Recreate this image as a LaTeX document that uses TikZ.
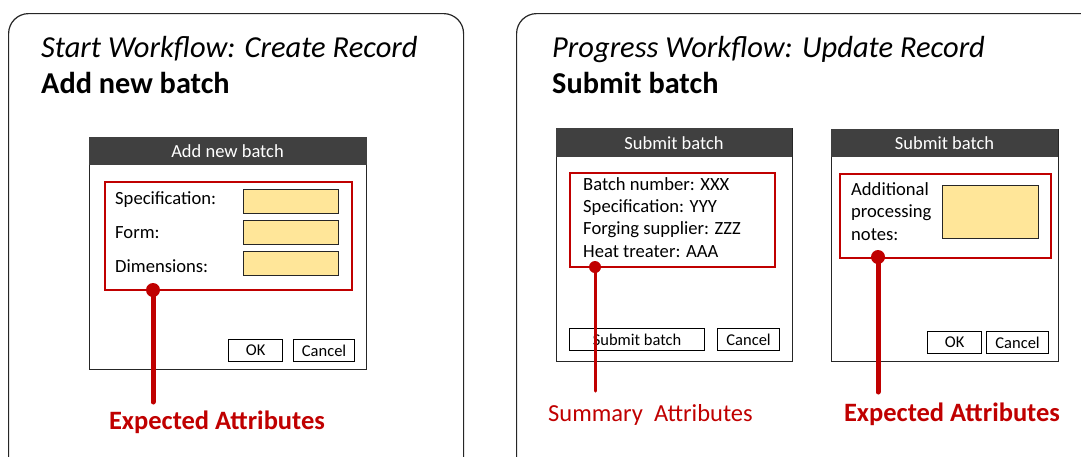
\documentclass[tikz,border=0pt]{standalone}
\usepackage{fontspec}
\setmainfont{Carlito}
\definecolor{barc}{HTML}{404040}
\definecolor{redc}{HTML}{C00000}
\definecolor{fieldc}{HTML}{FFE699}
\definecolor{linec}{HTML}{262626}
\newcommand{\fs}[1]{\fontsize{#1}{#1}\selectfont}
\begin{document}
\begin{tikzpicture}[x=1pt,y=-1pt,
  panel/.style={draw=linec, line width=1.2pt, rounded corners=20pt, anchor=north west, inner sep=0pt},
  dialog/.style={draw=linec, line width=1.4pt, fill=white, anchor=north west, inner sep=0pt},
  titlebar/.style={fill=barc, anchor=north west, inner sep=0pt},
  bartext/.style={text=white, font=\fs{18.5}, anchor=base, inner sep=0pt},
  group/.style={draw=redc, line width=1.5pt, anchor=north west, inner sep=0pt},
  field/.style={draw=linec, line width=1.4pt, fill=fieldc, anchor=north west, inner sep=0pt},
  button/.style={draw=black, line width=1.2pt, fill=white, anchor=north west, inner sep=0pt, font=\fs{16.5}},
  lbl/.style={font=\fs{18.6}, anchor=base west, inner sep=0pt},
  dotc/.style={circle, fill=redc, inner sep=0pt},
  conn/.style={draw=redc, line cap=round},
  callout/.style={text=redc, inner sep=0pt},
  ttl/.style={font=\fs{30.5}\itshape, anchor=base west, inner sep=0pt},
  sub/.style={font=\fs{30.3}\bfseries, anchor=base west, inner sep=0pt}
]
\useasboundingbox (0,0) rectangle (1081,456);
\clip (0,0) rectangle (1081,456);

% panels
\node[panel, minimum width=455pt, minimum height=470pt] (lpanel) at (8,13) {};
\node[panel, minimum width=600pt, minimum height=470pt] (rpanel) at (516,13) {};

% titles
\node[ttl] (ltitle) at (41,57) {Start Workflow: Create Record};
\node[sub] (lsub) at (41,93) {Add new batch};
\node[ttl] (rtitle) at (552,57) {Progress Workflow: Update Record};
\node[sub] (rsub) at (552,93) {Submit batch};

% ---------- left dialog ----------
\node[dialog, minimum width=277pt, minimum height=232pt] (d1) at (89,137) {};
\node[titlebar, minimum width=278pt, minimum height=28pt] (d1bar) at (89,137) {};
\node[bartext] (d1title) at (227.5,157) {Add new batch};
\node[group, minimum width=247pt, minimum height=108pt] (g1) at (104,181) {};
\node[lbl] (l1a) at (115,204) {Specification:};
\node[lbl] (l1b) at (115,238) {Form:};
\node[lbl] (l1c) at (115,272) {Dimensions:};
\node[field, minimum width=95pt, minimum height=24pt] (f1a) at (243,189) {};
\node[field, minimum width=95pt, minimum height=24pt] (f1b) at (243,220) {};
\node[field, minimum width=95pt, minimum height=24pt] (f1c) at (243,251) {};
\node[button, minimum width=54pt, minimum height=22pt] (ok1) at (228,339) {OK};
\node[button, minimum width=61pt, minimum height=22pt] (cancel1) at (293,339) {Cancel};
\node[dotc, minimum size=14pt] (dot1) at (153,290) {};
\coordinate (end1) at (153,402);
\draw[conn, line width=5pt] (dot1.center) -- (end1);
\node[callout, font=\fs{26.5}\bfseries, anchor=base] (call1) at (217,429) {Expected Attributes};

% ---------- right dialog 1 ----------
\node[dialog, minimum width=236pt, minimum height=233pt] (d2) at (556,128) {};
\node[titlebar, minimum width=236pt, minimum height=29pt] (d2bar) at (556,128) {};
\node[bartext] (d2title) at (674,149) {Submit batch};
\node[group, minimum width=205pt, minimum height=94pt] (g2) at (569,172) {};
\node[lbl] (l2a) at (583,190) {Batch number: XXX};
\node[lbl] (l2b) at (583,212) {Specification: YYY};
\node[lbl] (l2c) at (583,234) {Forging supplier: ZZZ};
\node[lbl] (l2d) at (583,257) {Heat treater: AAA};
\node[button, minimum width=135pt, minimum height=22pt] (submit2) at (569,328) {Submit batch};
\node[button, minimum width=62pt, minimum height=22pt] (cancel2) at (717,328) {Cancel};
\node[dotc, minimum size=12pt] (dot2) at (595,267) {};
\coordinate (end2) at (595,391);
\draw[conn, line width=3pt] (dot2.center) -- (end2);
\node[callout, font=\fs{24.5}, anchor=base west] (call2) at (548,421) {Summary\ \ Attributes};

% ---------- right dialog 2 ----------
\node[dialog, minimum width=227pt, minimum height=232pt] (d3) at (831,129) {};
\node[titlebar, minimum width=227pt, minimum height=28pt] (d3bar) at (831,129) {};
\node[bartext] (d3title) at (944.5,149) {Submit batch};
\node[group, minimum width=211pt, minimum height=84pt] (g3) at (839,173) {};
\node[lbl] (l3a) at (851,195) {Additional};
\node[lbl] (l3b) at (851,217) {processing};
\node[lbl] (l3c) at (851,240) {notes:};
\node[field, minimum width=96pt, minimum height=53pt] (f3) at (942,185) {};
\node[button, minimum width=54pt, minimum height=22pt] (ok3) at (927,331) {OK};
\node[button, minimum width=62pt, minimum height=22pt] (cancel3) at (986,331) {Cancel};
\node[dotc, minimum size=14pt] (dot3) at (878,257) {};
\coordinate (end3) at (878,392);
\draw[conn, line width=5pt] (dot3.center) -- (end3);
\node[callout, font=\fs{26.5}\bfseries, anchor=base] (call3) at (952,421) {Expected Attributes};
\end{tikzpicture}
\end{document}
